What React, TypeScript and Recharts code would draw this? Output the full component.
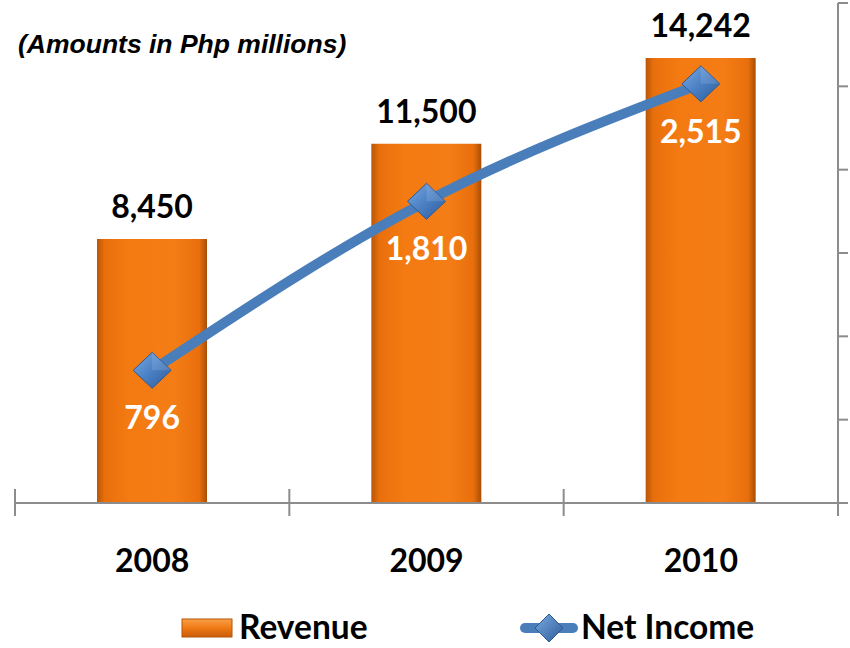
import React from 'react';
import { ComposedChart, Bar, Line, XAxis, YAxis, LabelList, Legend } from 'recharts';

const years = ['2008', '2009', '2010'];
const revenue = [8450, 11500, 14242];
const netIncome = [796, 1810, 2515];
const revenueDomain = [0, 16000];
const incomeTicks = [0, 500, 1000, 1500, 2000, 2500, 3000];

const data = years.map((y, i) => ({ year: y, revenue: revenue[i], netIncome: netIncome[i] }));

const FONT = 'Lato, "Open Sans", sans-serif';
const AXIS = '#8c8c8c';
const fmt = (v: number) => v.toLocaleString('en-US');

const XTick = (props: any) => {
  const { x, y, payload, index } = props;
  const off = payload.offset ?? 0;
  return (
    <g>
      <line x1={x - off} x2={x - off} y1={y - 14} y2={y + 13} stroke={AXIS} strokeWidth={2} />
      {index === years.length - 1 && (
        <line x1={x + off} x2={x + off} y1={y - 14} y2={y + 13} stroke={AXIS} strokeWidth={2} />
      )}
      <text x={x} y={y + 69} textAnchor="middle" fontFamily={FONT} fontWeight={700} fontSize={32} fill="#000">
        {payload.value}
      </text>
    </g>
  );
};

const EmptyTick = () => <g />;

const Diamond = (props: any) => {
  const { cx, cy } = props;
  if (cx == null || cy == null) return null;
  const w = 19, h = 18;
  return (
    <g>
      <polygon points={`${cx},${cy - h} ${cx + w},${cy} ${cx},${cy + h} ${cx - w},${cy}`} fill="url(#diaGrad)" stroke="#2d5a94" strokeWidth={1} />
      <polygon points={`${cx},${cy - h} ${cx + w},${cy} ${cx},${cy} `} fill="#ffffff" opacity={0.12} />
    </g>
  );
};

const BarLabel = (props: any) => {
  const { x, y, width, value } = props;
  return (
    <text x={x + width / 2} y={y - 21} textAnchor="middle" fontFamily={FONT} fontWeight={700} fontSize={32} fill="#000">
      {fmt(value)}
    </text>
  );
};

const LineLabel = (props: any) => {
  const { x, y, value } = props;
  return (
    <text x={x} y={y + 59} textAnchor="middle" fontFamily={FONT} fontWeight={700} fontSize={32} fill="#fff">
      {fmt(value)}
    </text>
  );
};

const LegendContent = () => (
  <svg width={850} height={48} style={{ display: 'block', overflow: 'visible' }}>
    <defs>
      <linearGradient id="legBar" x1="0" y1="0" x2="0" y2="1">
        <stop offset="0" stopColor="#f9a04a" />
        <stop offset="0.5" stopColor="#f07a14" />
        <stop offset="1" stopColor="#c85c0a" />
      </linearGradient>
      <linearGradient id="legDia" x1="0" y1="0" x2="1" y2="1">
        <stop offset="0" stopColor="#7aaae0" />
        <stop offset="1" stopColor="#2e5c9a" />
      </linearGradient>
    </defs>
    <rect x={182} y={19} width={50} height={18} fill="url(#legBar)" stroke="#b85608" strokeWidth={1} />
    <text x={239} y={39} fontFamily={FONT} fontWeight={700} fontSize={33.5} fill="#000">Revenue</text>
    <line x1={525} x2={573} y1={28} y2={28} stroke="#4A7EBB" strokeWidth={10} strokeLinecap="round" />
    <polygon points="549,14 563,28 549,42 535,28" fill="url(#legDia)" stroke="#2d5a94" strokeWidth={1} />
    <text x={581} y={39} fontFamily={FONT} fontWeight={700} fontSize={33.5} fill="#000">Net Income</text>
  </svg>
);

export default function App() {
  return (
    <div style={{ position: 'absolute', left: 0, top: 0, width: 850, height: 648, background: '#fff' }}>
      <div
        style={{
          position: 'absolute',
          left: 18,
          top: 29,
          fontFamily: '"Liberation Sans", Arial, sans-serif',
          fontWeight: 700,
          fontStyle: 'italic',
          fontSize: 26.5,
          color: '#000',
          zIndex: 2,
          whiteSpace: 'nowrap',
        }}
      >
        (Amounts in Php millions)
      </div>
      <ComposedChart width={850} height={648} data={data} margin={{ top: 3, right: 0, left: 15, bottom: 0 }}>
        <defs>
          <linearGradient id="barGrad" x1="0" y1="0" x2="1" y2="0">
            <stop offset="0" stopColor="#b85608" />
            <stop offset="0.07" stopColor="#e86f0c" />
            <stop offset="0.3" stopColor="#f47a12" />
            <stop offset="0.7" stopColor="#f57d16" />
            <stop offset="0.93" stopColor="#e86f0c" />
            <stop offset="1" stopColor="#a84e06" />
          </linearGradient>
          <linearGradient id="diaGrad" x1="0" y1="0" x2="1" y2="1">
            <stop offset="0" stopColor="#7aaae0" />
            <stop offset="0.5" stopColor="#4a80c4" />
            <stop offset="1" stopColor="#2e5c9a" />
          </linearGradient>
        </defs>
        <XAxis
          dataKey="year"
          axisLine={{ stroke: AXIS, strokeWidth: 2 }}
          tickLine={false}
          tickSize={0}
          tickMargin={0}
          height={97}
          tick={<XTick />}
          interval={0}
        />
        <YAxis yAxisId="rev" hide domain={revenueDomain} />
        <YAxis
          yAxisId="ni"
          orientation="right"
          domain={[0, 3000]}
          ticks={incomeTicks}
          interval={0}
          width={12}
          tick={<EmptyTick />}
          tickSize={10}
          tickLine={{ stroke: AXIS, strokeWidth: 2 }}
          axisLine={{ stroke: AXIS, strokeWidth: 2 }}
        />
        <Legend verticalAlign="bottom" content={<LegendContent />} wrapperStyle={{ left: 0, width: 850, height: 48, bottom: 0 }} />
        <Bar yAxisId="rev" dataKey="revenue" barSize={110} fill="url(#barGrad)" isAnimationActive={false}>
          <LabelList dataKey="revenue" content={<BarLabel />} />
        </Bar>
        <Line
          yAxisId="ni"
          dataKey="netIncome"
          type="monotone"
          stroke="#4A7EBB"
          strokeWidth={10}
          dot={<Diamond />}
          activeDot={false}
          isAnimationActive={false}
        >
          <LabelList dataKey="netIncome" content={<LineLabel />} />
        </Line>
      </ComposedChart>
    </div>
  );
}
